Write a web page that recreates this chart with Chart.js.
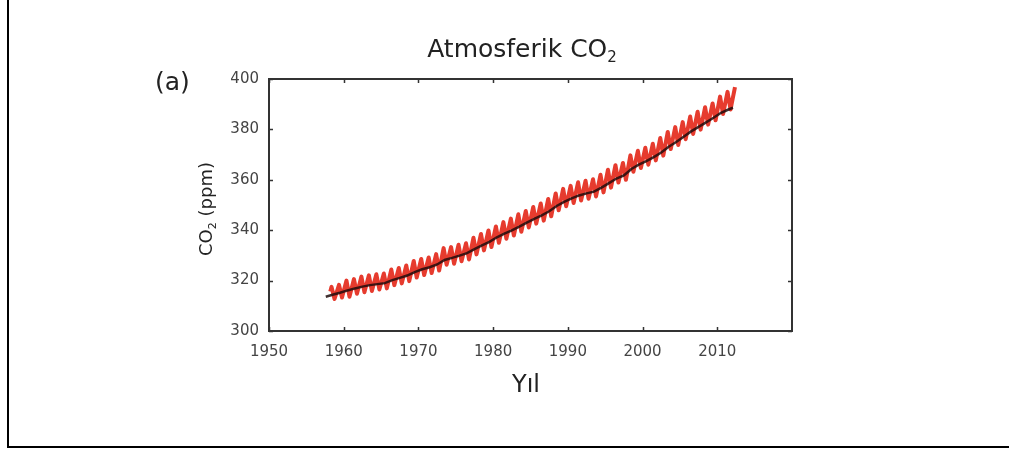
<!DOCTYPE html>
<html>
<head>
<meta charset="utf-8">
<script src="https://cdn.jsdelivr.net/npm/chart.js@4/dist/chart.umd.min.js"></script>
<style>
  html, body { margin: 0; padding: 0; background: #fff; }
  canvas { display: block; }
</style>
</head>
<body>
<canvas id="c" width="1009" height="451"></canvas>
<script>
// Mauna Loa: yearly seasonal maxima (May) and minima (Sep/Oct), ppm
const mloYears = [1958,1959,1960,1961,1962,1963,1964,1965,1966,1967,1968,1969,1970,1971,1972,1973,1974,1975,1976,1977,
  1978,1979,1980,1981,1982,1983,1984,1985,1986,1987,1988,1989,1990,1991,1992,1993,1994,1995,1996,1997,
  1998,1999,2000,2001,2002,2003,2004,2005,2006,2007,2008,2009,2010,2011,2012];
const mloPeak = [317.5,318.3,320.0,320.6,321.6,322.1,322.5,322.8,324.4,325.0,326.0,327.8,328.6,329.2,330.5,332.9,333.3,334.2,334.8,337.0,
  338.5,339.9,341.5,343.2,344.6,346.3,347.6,349.2,350.6,352.4,354.6,356.4,357.6,359.0,359.6,360.2,362.0,364.0,365.8,366.7,
  369.7,371.5,372.7,374.3,376.6,379.0,380.9,382.9,385.1,387.0,388.8,390.3,393.0,394.9,396.8];
const mloTrough = [312.7,313.3,313.6,314.8,315.4,315.9,316.5,316.9,318.2,318.9,319.8,321.2,322.2,323.0,324.0,326.3,326.7,327.7,328.4,330.4,
  332.0,333.3,335.0,336.6,337.9,339.4,341.1,342.6,343.8,345.5,347.9,349.5,350.8,351.8,352.5,353.4,355.0,356.9,358.9,360.0,
  363.2,364.7,366.0,367.7,369.6,372.2,373.8,376.1,378.2,379.9,381.9,383.6,386.1,387.9];
const mloFirst = { x: 1958.2, y: 315.7 };

// South Pole: yearly means, ppm
const spoYears = [1957.6,1958.5,1959.5,1960.5,1961.5,1962.5,1963.5,1964.5,1965.5,1966.5,1967.5,1968.5,1969.5,1970.5,1971.5,1972.5,
  1973.5,1974.5,1975.5,1976.5,1977.5,1978.5,1979.5,1980.5,1981.5,1982.5,1983.5,1984.5,1985.5,1986.5,1987.5,1988.5,
  1989.5,1990.5,1991.5,1992.5,1993.5,1994.5,1995.5,1996.5,1997.5,1998.5,1999.5,2000.5,2001.5,2002.5,2003.5,2004.5,
  2005.5,2006.5,2007.5,2008.5,2009.5,2010.5,2011.5,2012.1];
const spoValues = [313.6,314.4,315.2,316.1,316.9,317.6,318.2,318.6,319.0,320.2,321.1,322.0,323.4,324.5,325.3,326.4,
  328.2,329.0,329.9,330.9,332.5,334.0,335.4,337.2,338.6,339.9,341.4,343.0,344.5,345.9,347.5,349.6,
  351.2,352.6,353.8,354.6,355.3,356.9,358.7,360.5,361.7,364.3,366.0,367.4,369.0,370.8,373.1,375.0,
  377.1,379.2,381.0,382.8,384.6,386.6,387.9,388.6];

const xTicks = [1950,1960,1970,1980,1990,2000,2010];
const yTicks = [300,320,340,360,380,400];

// sawtooth points: rise to the May maximum, fall to the autumn minimum
const mloPoints = [mloFirst];
mloYears.forEach((yr, i) => {
  mloPoints.push({ x: yr + 0.37, y: mloPeak[i] });
  if (i < mloTrough.length) mloPoints.push({ x: yr + 0.77, y: mloTrough[i] });
});
const spoPoints = spoYears.map((t, i) => ({ x: t, y: spoValues[i] }));

const FONT = "'DejaVu Sans', Verdana, sans-serif";

const decor = {
  id: 'decor',
  afterDraw(chart) {
    const ctx = chart.ctx;
    const a = chart.chartArea;
    const xs = chart.scales.x, ys = chart.scales.y;
    ctx.save();

    // plot box with inward ticks
    ctx.strokeStyle = '#333';
    ctx.lineWidth = 2;
    ctx.strokeRect(a.left, a.top, a.right - a.left, a.bottom - a.top);
    ctx.lineWidth = 1.5;
    ctx.beginPath();
    xTicks.forEach(v => {
      const px = Math.round(xs.getPixelForValue(v)) + 0.5;
      ctx.moveTo(px, a.bottom); ctx.lineTo(px, a.bottom - 4);
      ctx.moveTo(px, a.top); ctx.lineTo(px, a.top + 4);
    });
    yTicks.forEach(v => {
      const py = Math.round(ys.getPixelForValue(v)) + 0.5;
      ctx.moveTo(a.left, py); ctx.lineTo(a.left + 4, py);
      ctx.moveTo(a.right, py); ctx.lineTo(a.right - 4, py);
    });
    ctx.stroke();

    // outer frame lines
    ctx.fillStyle = '#000';
    ctx.fillRect(7, 0, 2, 448);
    ctx.fillRect(7, 446, 1002, 2);

    // title with subscript
    ctx.fillStyle = '#222';
    ctx.textBaseline = 'alphabetic';
    const main = 'Atmosferik CO';
    ctx.font = '25px ' + FONT;
    const wMain = ctx.measureText(main).width;
    ctx.font = '15px ' + FONT;
    const wSub = ctx.measureText('2').width;
    const tx = 522 - (wMain + wSub) / 2;
    ctx.font = '25px ' + FONT;
    ctx.textAlign = 'left';
    ctx.fillText(main, tx, 57);
    ctx.font = '15px ' + FONT;
    ctx.fillText('2', tx + wMain, 62);

    // panel letter
    ctx.font = '25px ' + FONT;
    ctx.fillText('(a)', 155, 90);

    // x axis title
    ctx.font = '24px ' + FONT;
    ctx.textAlign = 'center';
    ctx.fillText('Yıl', 526, 392);

    // y axis title, rotated, with subscript
    ctx.save();
    ctx.translate(212, 209);
    ctx.rotate(-Math.PI / 2);
    ctx.textAlign = 'left';
    ctx.font = '18px ' + FONT;
    const p1 = 'CO', p2 = ' (ppm)';
    const w1 = ctx.measureText(p1).width, w2 = ctx.measureText(p2).width;
    ctx.font = '11px ' + FONT;
    const w3 = ctx.measureText('2').width;
    const sx = -(w1 + w2 + w3) / 2;
    ctx.font = '18px ' + FONT;
    ctx.fillText(p1, sx, 0);
    ctx.font = '11px ' + FONT;
    ctx.fillText('2', sx + w1, 4);
    ctx.font = '18px ' + FONT;
    ctx.fillText(p2, sx + w1 + w3, 0);
    ctx.restore();

    ctx.restore();
  }
};

new Chart(document.getElementById('c'), {
  type: 'line',
  data: {
    datasets: [
      {
        label: 'South Pole',
        data: spoPoints,
        borderColor: 'rgba(30,12,12,0.85)',
        borderWidth: 2.5,
        pointRadius: 0,
        tension: 0
      },
      {
        label: 'Mauna Loa',
        data: mloPoints,
        borderColor: '#e63b2e',
        borderWidth: 4,
        pointRadius: 0,
        tension: 0,
        borderJoinStyle: 'round'
      }
    ]
  },
  options: {
    responsive: false,
    animation: false,
    devicePixelRatio: 1,
    layout: { padding: { top: 79, right: 217, left: 0, bottom: 0 } },
    plugins: { legend: { display: false }, tooltip: { enabled: false }, title: { display: false } },
    scales: {
      x: {
        type: 'linear',
        min: 1950, max: 2020,
        grid: { display: false, drawTicks: false },
        border: { display: false },
        afterFit: s => { s.height = 120; },
        afterBuildTicks: s => { s.ticks = xTicks.map(v => ({ value: v })); },
        ticks: {
          padding: 12,
          maxRotation: 0,
          autoSkip: false,
          color: '#444',
          font: { family: FONT, size: 15 },
          callback: v => String(v)
        }
      },
      y: {
        min: 300, max: 400,
        grid: { display: false, drawTicks: false },
        border: { display: false },
        afterFit: s => { s.width = 269; },
        afterBuildTicks: s => { s.ticks = yTicks.map(v => ({ value: v })); },
        ticks: {
          padding: 10,
          autoSkip: false,
          color: '#444',
          font: { family: FONT, size: 15 },
          callback: v => String(v)
        }
      }
    }
  },
  plugins: [decor]
});
</script>
</body>
</html>
